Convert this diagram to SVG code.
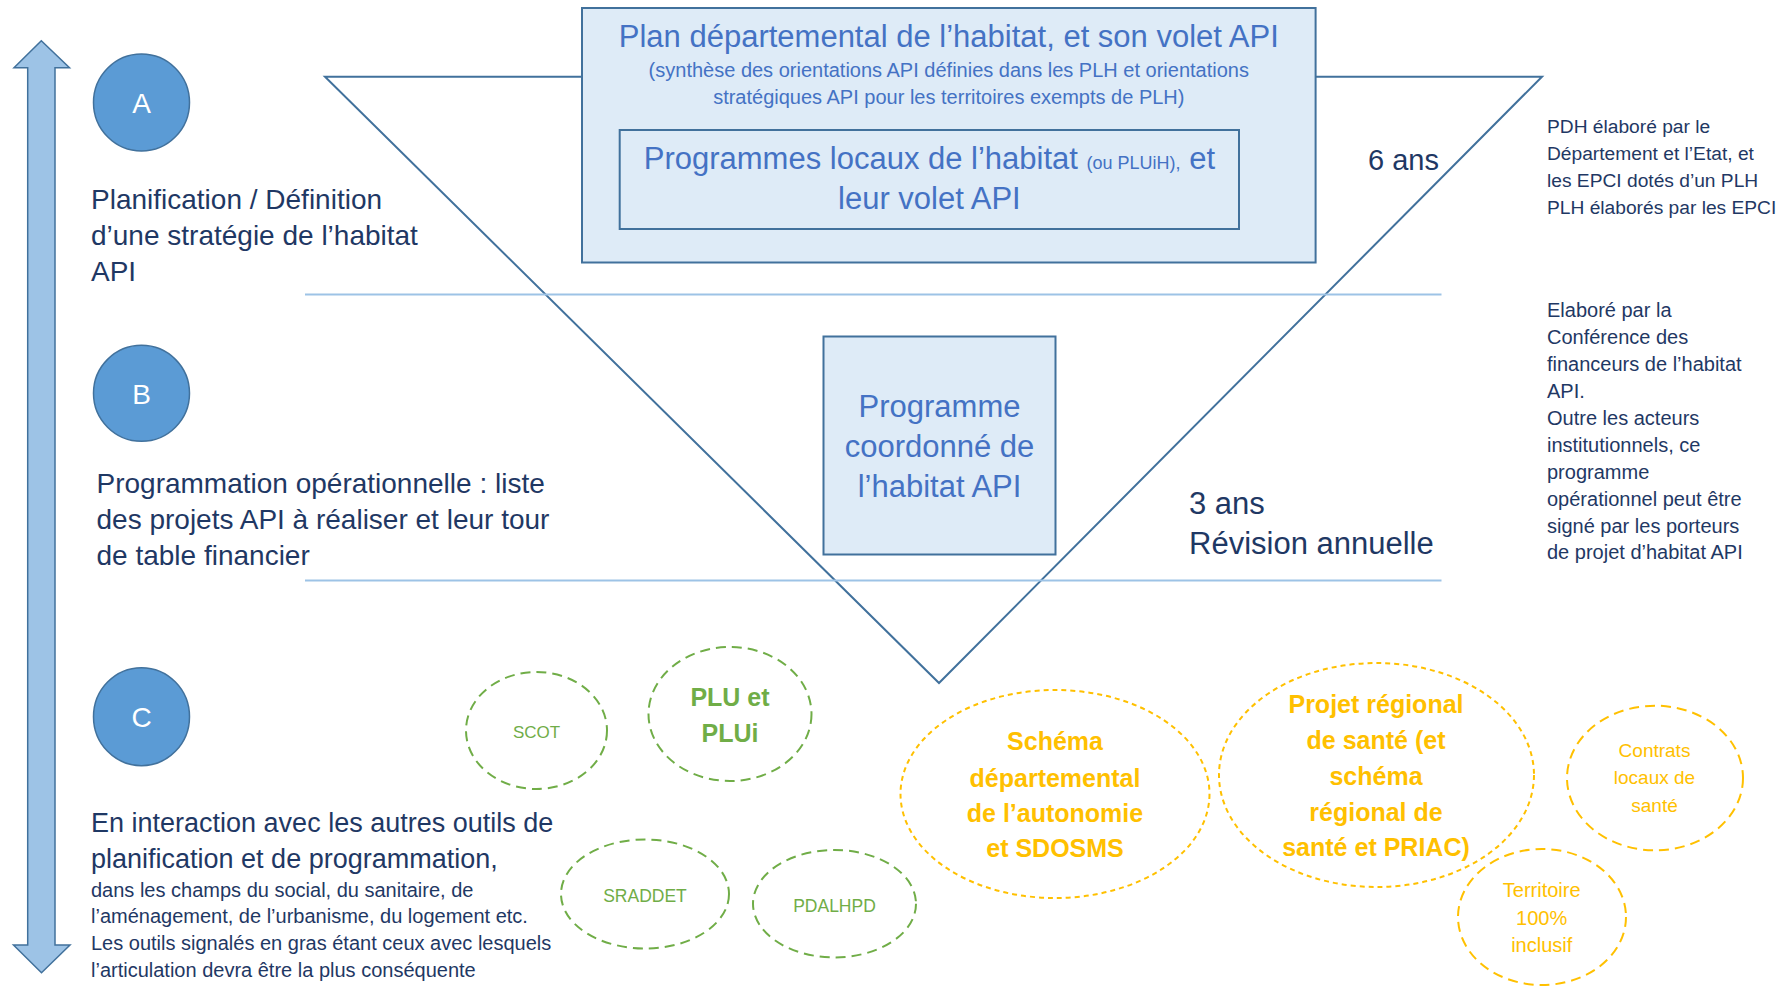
<svg xmlns="http://www.w3.org/2000/svg" width="1789" height="986" viewBox="0 0 1789 986">
<style>
text{font-family:"Liberation Sans",Arial,sans-serif}
.navy{fill:#1F3864}
.blue{fill:#4472C4}
.lbl{fill:#FFFFFF;font-size:28px;text-anchor:middle}
.circ{fill:#5B9BD5;stroke:#41719C;stroke-width:1.5}
.box{fill:#DEEBF7;stroke:#41719C;stroke-width:2}
.tri{fill:none;stroke:#41719C;stroke-width:2}
.hl{stroke:#9DC3E6;stroke-width:2}
.g{fill:none;stroke:#70AD47;stroke-width:2;stroke-dasharray:10 6}
.gt{fill:#70AD47;text-anchor:middle}
.o1{fill:none;stroke:#FFC000;stroke-width:2;stroke-dasharray:5 4}
.o2{fill:none;stroke:#FFC000;stroke-width:2;stroke-dasharray:10 6}
.ot{fill:#FFC000;text-anchor:middle}
</style>
<rect width="1789" height="986" fill="#FFFFFF"/>

<g id="frame">
  <polygon class="tri" points="325,76.7 1542,76.7 939,683"/>
  <line class="hl" x1="305" y1="294.5" x2="1441.5" y2="294.5"/>
  <line class="hl" x1="305" y1="580.5" x2="1441.5" y2="580.5"/>
</g>

<g id="connectors">
  <polygon id="double-arrow" points="41.3,40.7 69.5,67.7 55,67.7 55,945 70,945 41.5,972.7 13.5,945 27.7,945 27.7,67.7 14,67.7" fill="#9DC3E6" stroke="#41719C" stroke-width="1.5" stroke-linejoin="miter"/>
</g>

<g id="node-pdh">
  <rect class="box" x="582" y="8" width="733.6" height="254.5"/>
  <text class="blue" x="948.8" y="47" font-size="31" text-anchor="middle">Plan départemental de l’habitat, et son volet API</text>
  <text class="blue" x="948.8" y="77" font-size="20" text-anchor="middle">(synthèse des orientations API définies dans les PLH et orientations</text>
  <text class="blue" x="948.8" y="103.5" font-size="20" text-anchor="middle">stratégiques API pour les territoires exempts de PLH)</text>
</g>

<g id="node-plh">
  <rect class="box" x="619.7" y="130" width="619.3" height="99"/>
  <text class="blue" x="929.4" y="168.5" font-size="31" text-anchor="middle">Programmes locaux de l’habitat <tspan font-size="18">(ou PLUiH),</tspan> et</text>
  <text class="blue" x="929.4" y="208.5" font-size="31" text-anchor="middle">leur volet API</text>
</g>

<g id="node-programme">
  <rect class="box" x="823.5" y="336.5" width="232" height="218"/>
  <text class="blue" x="939.5" y="416.7" font-size="31" text-anchor="middle">Programme</text>
  <text class="blue" x="939.5" y="456.7" font-size="31" text-anchor="middle">coordonné de</text>
  <text class="blue" x="939.5" y="496.7" font-size="31" text-anchor="middle">l’habitat API</text>
</g>

<g id="label-6ans">
  <text class="navy" x="1368" y="170" font-size="29">6 ans</text>
</g>
<g id="label-3ans">
  <text class="navy" x="1189" y="513.5" font-size="31">3 ans</text>
  <text class="navy" x="1189" y="553.5" font-size="31">Révision annuelle</text>
</g>

<g id="note-pdh" class="navy" font-size="19.2">
  <text x="1547" y="133">PDH élaboré par le</text>
  <text x="1547" y="160">Département et l’Etat, et</text>
  <text x="1547" y="187">les EPCI dotés d’un PLH</text>
  <text x="1547" y="213.5">PLH élaborés par les EPCI</text>
</g>

<g id="note-programme" class="navy" font-size="20">
  <text x="1547" y="317.3">Elaboré par la</text>
  <text x="1547" y="344.2">Conférence des</text>
  <text x="1547" y="371.1">financeurs de l’habitat</text>
  <text x="1547" y="398">API.</text>
  <text x="1547" y="424.9">Outre les acteurs</text>
  <text x="1547" y="451.8">institutionnels, ce</text>
  <text x="1547" y="478.7">programme</text>
  <text x="1547" y="505.6">opérationnel peut être</text>
  <text x="1547" y="532.5">signé par les porteurs</text>
  <text x="1547" y="559.4">de projet d’habitat API</text>
</g>

<g id="step-a">
  <ellipse class="circ" cx="141.5" cy="102.5" rx="48" ry="48.5"/>
  <text class="lbl" x="141.5" y="112.7">A</text>
  <text class="navy" x="91" y="208.5" font-size="28">Planification / Définition</text>
  <text class="navy" x="91" y="244.5" font-size="28">d’une stratégie de l’habitat</text>
  <text class="navy" x="91" y="280.5" font-size="28">API</text>
</g>

<g id="step-b">
  <ellipse class="circ" cx="141.5" cy="393.3" rx="48" ry="48"/>
  <text class="lbl" x="141.5" y="403.5">B</text>
  <text class="navy" x="96.5" y="492.7" font-size="28">Programmation opérationnelle : liste</text>
  <text class="navy" x="96.5" y="529.3" font-size="28">des projets API à réaliser et leur tour</text>
  <text class="navy" x="96.5" y="565" font-size="28">de table financier</text>
</g>

<g id="step-c">
  <ellipse class="circ" cx="141.5" cy="716.7" rx="48" ry="49"/>
  <text class="lbl" x="141.5" y="727">C</text>
  <text class="navy" x="91" y="831.7" font-size="27">En interaction avec les autres outils de</text>
  <text class="navy" x="91" y="868.3" font-size="27">planification et de programmation,</text>
  <text class="navy" x="91" y="896.7" font-size="20">dans les champs du social, du sanitaire, de</text>
  <text class="navy" x="91" y="923.3" font-size="20">l’aménagement, de l’urbanisme, du logement etc.</text>
  <text class="navy" x="91" y="950" font-size="20">Les outils signalés en gras étant ceux avec lesquels</text>
  <text class="navy" x="91" y="976.7" font-size="20">l’articulation devra être la plus conséquente</text>
</g>

<g id="node-scot">
  <ellipse class="g" cx="536.5" cy="730.5" rx="70.5" ry="58.5"/>
  <text class="gt" x="536.5" y="738.3" font-size="17">SCOT</text>
</g>
<g id="node-plu">
  <ellipse class="g" cx="730" cy="714" rx="81.5" ry="67"/>
  <text class="gt" x="730" y="706" font-size="25" font-weight="bold">PLU et</text>
  <text class="gt" x="730" y="741.7" font-size="25" font-weight="bold">PLUi</text>
</g>
<g id="node-sraddet">
  <ellipse class="g" cx="645" cy="894" rx="84" ry="54.5"/>
  <text class="gt" x="645" y="901.7" font-size="17.5">SRADDET</text>
</g>
<g id="node-pdalhpd">
  <ellipse class="g" cx="834.5" cy="903.7" rx="81.5" ry="53.7"/>
  <text class="gt" x="834.5" y="911.7" font-size="17.5">PDALHPD</text>
</g>

<g id="node-schema">
  <ellipse class="o1" cx="1055" cy="794" rx="154.5" ry="104"/>
  <g class="ot" font-size="25" font-weight="bold">
    <text x="1055" y="750">Schéma</text>
    <text x="1055" y="786.5">départemental</text>
    <text x="1055" y="821.5">de l’autonomie</text>
    <text x="1055" y="857.3">et SDOSMS</text>
  </g>
</g>
<g id="node-prs">
  <ellipse class="o1" cx="1376.5" cy="775" rx="157.5" ry="112"/>
  <g class="ot" font-size="25" font-weight="bold">
    <text x="1376" y="713">Projet régional</text>
    <text x="1376" y="749">de santé (et</text>
    <text x="1376" y="785">schéma</text>
    <text x="1376" y="820.7">régional de</text>
    <text x="1376" y="856">santé et PRIAC)</text>
  </g>
</g>
<g id="node-cls">
  <ellipse class="o2" cx="1655" cy="778" rx="88" ry="72.3"/>
  <g class="ot" font-size="19">
    <text x="1654.5" y="757">Contrats</text>
    <text x="1654.5" y="784">locaux de</text>
    <text x="1654.5" y="811.7">santé</text>
  </g>
</g>
<g id="node-territoire">
  <ellipse class="o2" cx="1542" cy="917" rx="84" ry="68"/>
  <g class="ot" font-size="20">
    <text x="1541.7" y="897">Territoire</text>
    <text x="1541.7" y="925">100%</text>
    <text x="1541.7" y="951.7">inclusif</text>
  </g>
</g>
</svg>
